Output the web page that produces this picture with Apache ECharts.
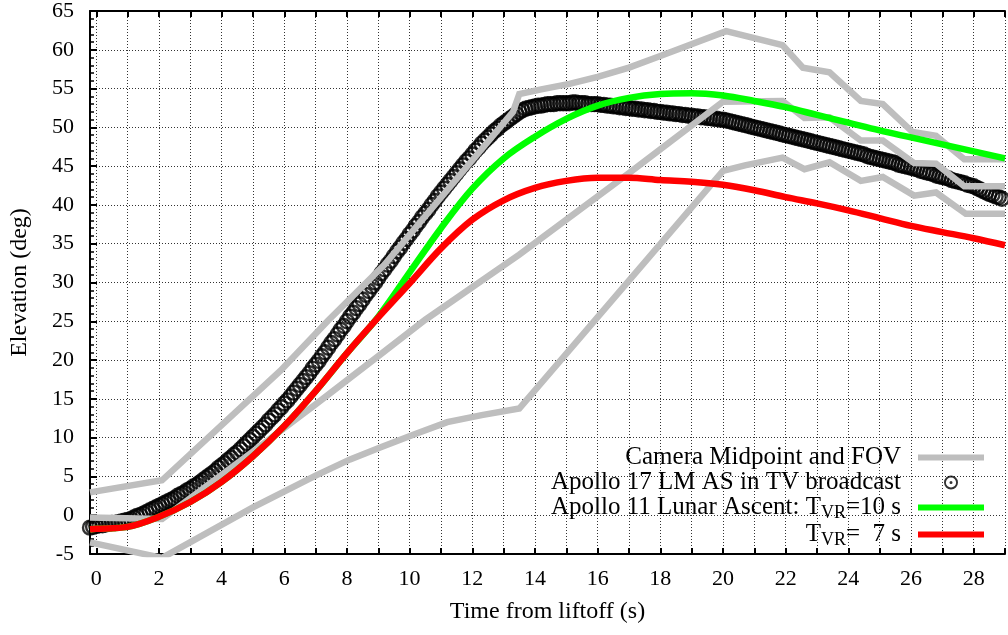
<!DOCTYPE html>
<html>
<head>
<meta charset="utf-8">
<script src="https://cdn.jsdelivr.net/npm/echarts@6/dist/echarts.min.js"></script>
<style>
  html, body { margin: 0; padding: 0; background: #fff; }
  #chart { width: 1008px; height: 635px; }
</style>
</head>
<body>
<div id="chart"></div>
<script>
const FONT = 'Liberation Serif'

// camera pointing: upper FOV edge, midpoint, lower FOV edge
const camTopX = [-0.2, 2.1, 5.87, 7.4, 9.2, 13.3, 13.5, 14.2, 15.1, 16.0, 17.0, 18.0, 20.1, 21.9, 22.55, 23.4, 24.4, 25.1, 26.05, 26.8, 27.7, 29.0]
const camTopY = [2.95, 4.5, 18.6, 25.1, 32.3, 52.0, 54.3, 54.9, 55.6, 56.5, 57.7, 59.2, 62.4, 60.6, 57.7, 57.1, 53.4, 53.0, 49.4, 48.9, 45.9, 45.9]
const camMidX = [-0.2, 2.1, 5.0, 7.0, 9.0, 10.5, 13.5, 17.0, 20.0, 21.9, 22.6, 23.4, 24.4, 25.1, 26.1, 26.8, 27.7, 29.0]
const camMidY = [-0.3, -0.5, 8.2, 14.3, 20.5, 25.2, 33.6, 44.1, 53.3, 53.4, 51.2, 51.3, 48.3, 48.3, 45.4, 45.3, 42.4, 42.4]
const camLowX = [-0.2, 2.1, 5.0, 7.0, 8.1, 9.1, 10.2, 11.2, 12.3, 13.5, 20.0, 20.7, 21.9, 22.6, 23.4, 24.4, 25.1, 26.1, 26.8, 27.75, 29.0]
const camLowY = [-3.5, -5.5, 1.0, 5.1, 7.2, 8.8, 10.5, 12.0, 12.9, 13.75, 44.4, 45.1, 46.1, 44.6, 45.5, 43.1, 43.6, 41.2, 41.6, 38.85, 38.85]

// Apollo 17 LM ascent stage tracked in the TV broadcast, one value every 0.1 s from t = -0.2 s
const a17Start = -0.2
const a17Step = 0.1
const a17Elev = [
  -1.6, -1.5,
  -1.4, -1.3, -1.3, -1.2, -1.1, -1.0, -1.0, -0.9, -0.8, -0.7,
  -0.6, -0.5, -0.3, -0.1, 0.0, 0.2, 0.4, 0.6, 0.8, 1.0,
  1.2, 1.4, 1.6, 1.8, 2.0, 2.2, 2.5, 2.7, 2.9, 3.2,
  3.4, 3.7, 3.9, 4.2, 4.5, 4.8, 5.1, 5.4, 5.7, 6.1,
  6.4, 6.7, 7.1, 7.4, 7.8, 8.1, 8.5, 8.9, 9.3, 9.7,
  10.1, 10.5, 10.9, 11.3, 11.7, 12.2, 12.6, 13.0, 13.5, 13.9,
  14.4, 14.8, 15.3, 15.8, 16.3, 16.8, 17.3, 17.8, 18.3, 18.9,
  19.4, 19.9, 20.5, 21.0, 21.6, 22.2, 22.7, 23.3, 23.9, 24.4,
  25.0, 25.6, 26.1, 26.7, 27.2, 27.8, 28.4, 28.9, 29.5, 30.0,
  30.6, 31.2, 31.7, 32.3, 32.8, 33.4, 34.0, 34.5, 35.1, 35.6,
  36.2, 36.7, 37.3, 37.8, 38.4, 38.9, 39.4, 40.0, 40.5, 41.1,
  41.6, 42.1, 42.6, 43.1, 43.6, 44.1, 44.6, 45.1, 45.6, 46.0,
  46.5, 47.0, 47.4, 47.9, 48.3, 48.7, 49.1, 49.5, 49.8, 50.2,
  50.5, 50.8, 51.1, 51.4, 51.7, 52.0, 52.2, 52.4, 52.5, 52.6,
  52.7, 52.8, 52.8, 52.9, 53.0, 53.0, 53.0, 53.1, 53.1, 53.1,
  53.1, 53.1, 53.2, 53.2, 53.1, 53.1, 53.1, 53.0, 53.0, 53.0,
  53.0, 52.9, 52.9, 52.8, 52.8, 52.7, 52.7, 52.6, 52.6, 52.5,
  52.5, 52.4, 52.4, 52.3, 52.3, 52.2, 52.2, 52.1, 52.1, 52.0,
  52.0, 51.9, 51.9, 51.8, 51.8, 51.7, 51.7, 51.6, 51.6, 51.5,
  51.5, 51.4, 51.4, 51.3, 51.3, 51.2, 51.2, 51.1, 51.1, 51.0,
  51.0, 50.9, 50.8, 50.7, 50.6, 50.5, 50.4, 50.3, 50.2, 50.1,
  50.0, 49.9, 49.8, 49.7, 49.6, 49.5, 49.4, 49.3, 49.2, 49.1,
  49.0, 48.9, 48.8, 48.7, 48.6, 48.5, 48.4, 48.3, 48.2, 48.1,
  48.0, 47.9, 47.8, 47.7, 47.6, 47.5, 47.4, 47.3, 47.2, 47.1,
  47.0, 46.9, 46.8, 46.7, 46.6, 46.5, 46.3, 46.2, 46.1, 46.0,
  45.9, 45.8, 45.7, 45.6, 45.5, 45.4, 45.2, 45.1, 45.0, 44.9,
  44.8, 44.7, 44.6, 44.4, 44.3, 44.2, 44.1, 44.0, 43.8, 43.7,
  43.6, 43.5, 43.4, 43.2, 43.1, 43.0, 42.9, 42.8, 42.6, 42.5,
  42.4, 42.2, 42.0, 41.8, 41.6, 41.4, 41.3, 41.1, 41.0, 40.8
]

// Apollo 11 lunar ascent model
const modelT = [-0.2, 0, 1, 2, 3, 4, 5, 6, 7, 8, 9, 10, 11, 12, 13, 14, 15, 16, 17, 18, 19, 20, 21, 22, 23, 24, 25, 26, 27, 28, 29]
const tvr10 = [-1.8, -1.75, -1.5, -0.2, 1.7, 4.3, 7.6, 11.5, 16.0, 20.9, 25.6, 31.3, 37.0, 42.1, 46.0, 48.8, 51.1, 52.8, 53.8, 54.3, 54.4, 54.1, 53.4, 52.6, 51.6, 50.6, 49.6, 48.7, 47.8, 46.9, 46.0]
const tvr7 = [-1.8, -1.75, -1.5, -0.2, 1.7, 4.3, 7.6, 11.5, 16.0, 20.9, 25.5, 29.9, 34.4, 38.1, 40.6, 42.2, 43.1, 43.5, 43.5, 43.2, 43.0, 42.6, 41.9, 41.0, 40.2, 39.3, 38.3, 37.3, 36.5, 35.7, 34.8]

const NAME_CAM = 'Camera Midpoint and FOV'
const NAME_A17 = 'Apollo 17 LM AS in TV broadcast'
const NAME_10 = 'Apollo 11 Lunar Ascent: TVR=10 s'
const NAME_7 = 'TVR=  7 s'

const zip = (xs, ys) => xs.map((x, i) => [x, ys[i]])
const a17Data = a17Elev.map((v, i) => [+(a17Start + i * a17Step).toFixed(1), v])

// legend icons, padded to the 66x14 legend box
const RING = 'path://M0 0M66 14M40 7A7 7 0 1 1 26 7A7 7 0 1 1 40 7ZM38.1 7A5.1 5.1 0 1 0 27.9 7A5.1 5.1 0 1 0 38.1 7ZM34.5 7A1.5 1.5 0 1 1 31.5 7A1.5 1.5 0 1 1 34.5 7Z'
const BAR = 'path://M0 0M66 14M0 4H66V10H0Z'

const camLine = (data) => ({
  name: NAME_CAM,
  type: 'line',
  symbol: 'none',
  data: data,
  lineStyle: { color: '#bebebe', width: 6.5, join: 'miter', cap: 'butt' },
  itemStyle: { color: '#bebebe' },
})

const xTicks = {
  type: 'value',
  min: -0.2,
  max: 29,
  minInterval: 1,
  maxInterval: 1,
}

const chart = echarts.init(document.getElementById('chart'))
chart.setOption({
  animation: false,
  backgroundColor: '#fff',
  grid: { left: 89, top: 10, width: 925, height: 544 },
  legend: {
    orient: 'vertical',
    right: 24,
    top: 445,
    align: 'right',
    padding: 0,
    itemGap: 0,
    itemWidth: 66,
    itemHeight: 14,
    selectedMode: false,
    data: [
      { name: NAME_CAM, icon: BAR, itemStyle: { color: '#bebebe', borderWidth: 0 } },
      { name: NAME_A17, icon: RING, itemStyle: { color: '#000', borderWidth: 0 } },
      { name: NAME_10, icon: BAR, itemStyle: { color: '#00ff00', borderWidth: 0 } },
      { name: NAME_7, icon: BAR, itemStyle: { color: '#ff0000', borderWidth: 0 } },
    ],
    formatter: function (name) {
      if (name === NAME_10) return '{n|Apollo 11 Lunar Ascent: T}{s|VR}{n|=10 s}'
      if (name === NAME_7) return '{n|T}{s|VR}{n|=  7 s}'
      return name
    },
    textStyle: {
      fontFamily: FONT,
      fontSize: 25,
      color: '#000',
      padding: [0, 12, 0, 0],
      rich: {
        n: { fontFamily: FONT, fontSize: 25, color: '#000' },
        s: { fontFamily: FONT, fontSize: 18, color: '#000', padding: [11, 0, 0, 0] },
      },
    },
  },
  xAxis: [
    Object.assign({}, xTicks, {
      position: 'bottom',
      name: 'Time from liftoff (s)',
      nameLocation: 'middle',
      nameGap: 46,
      nameTextStyle: { fontFamily: FONT, fontSize: 24, color: '#000' },
      axisLine: { show: true, onZero: false, lineStyle: { color: '#000', width: 2 } },
      axisTick: { inside: true, length: 6, lineStyle: { color: '#000', width: 2 } },
      axisLabel: {
        fontFamily: FONT,
        fontSize: 22,
        color: '#000',
        margin: 14,
        formatter: (v) => (v >= 0 && Math.abs(v % 2) < 1e-6 ? String(v) : ''),
      },
      splitLine: { show: true, lineStyle: { color: '#333', width: 1, type: [1, 2] } },
    }),
    Object.assign({}, xTicks, {
      position: 'top',
      axisLine: { show: true, onZero: false, lineStyle: { color: '#000', width: 2 } },
      axisTick: { inside: true, length: 6, lineStyle: { color: '#000', width: 2 } },
      axisLabel: { show: false },
      splitLine: { show: false },
    }),
  ],
  yAxis: {
    type: 'value',
    min: -5,
    max: 65,
    interval: 5,
    name: 'Elevation (deg)',
    nameLocation: 'middle',
    nameGap: 58,
    nameTextStyle: { fontFamily: FONT, fontSize: 24, color: '#000' },
    axisLine: { show: true, onZero: false, lineStyle: { color: '#000', width: 2 } },
    axisTick: { inside: true, length: 7, lineStyle: { color: '#000', width: 2 } },
    minorTick: { show: true, splitNumber: 5, length: 4, lineStyle: { color: '#000', width: 1.5 } },
    axisLabel: { fontFamily: FONT, fontSize: 22, color: '#000', margin: 16 },
    splitLine: { show: true, lineStyle: { color: '#333', width: 1, type: [1, 2] } },
  },
  series: [
    camLine(zip(camTopX, camTopY)),
    camLine(zip(camMidX, camMidY)),
    camLine(zip(camLowX, camLowY)),
    {
      name: NAME_A17,
      type: 'scatter',
      symbol: 'circle',
      symbolSize: 14,
      data: a17Data,
      itemStyle: { color: 'transparent', borderColor: '#000', borderWidth: 2.4 },
      emphasis: { disabled: true },
    },
    {
      name: NAME_10,
      type: 'line',
      symbol: 'none',
      smooth: 0.35,
      data: zip(modelT, tvr10),
      lineStyle: { color: '#00ff00', width: 6.5 },
      itemStyle: { color: '#00ff00' },
    },
    {
      name: NAME_7,
      type: 'line',
      symbol: 'none',
      smooth: 0.35,
      data: zip(modelT, tvr7),
      lineStyle: { color: '#ff0000', width: 6.5 },
      itemStyle: { color: '#ff0000' },
    },
  ],
})
</script>
</body>
</html>
